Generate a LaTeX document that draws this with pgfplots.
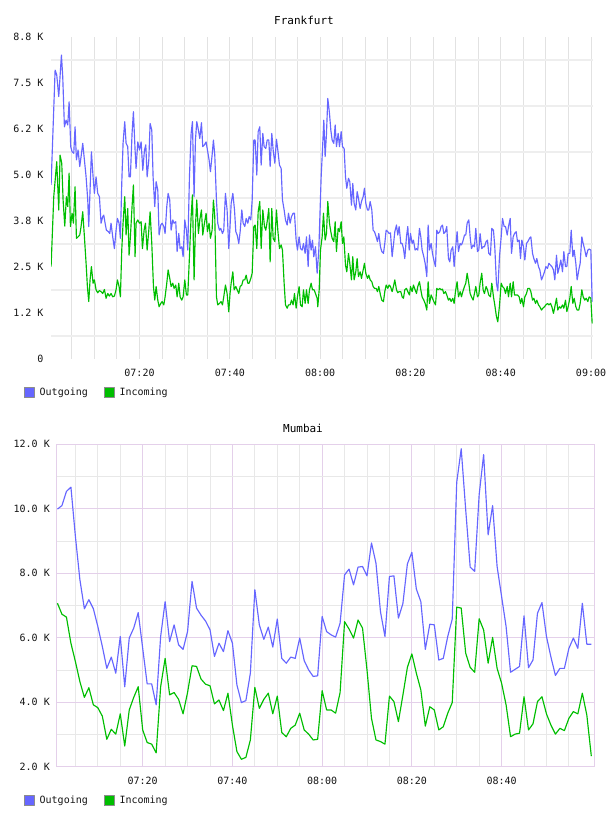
\documentclass[border=0pt]{standalone}
\usepackage{fontspec}
\setmainfont{DejaVu Sans Mono}
\usepackage{pgfplots}
\usepackage{pgfplotstable}
\pgfplotsset{compat=1.18}

\definecolor{outgoing}{RGB}{102,102,255}
\definecolor{incoming}{RGB}{0,190,0}
\definecolor{hgrid}{RGB}{238,238,238}
\definecolor{vgrid}{RGB}{226,226,226}
\definecolor{mgrid}{RGB}{228,208,234}
\definecolor{sgrid}{RGB}{232,232,232}
\definecolor{labeltext}{RGB}{20,20,20}

% Frankfurt: minutes after 07:00, traffic in thousands
\pgfplotstableread{
t v
0.42 4.73
1.31 7.85
1.67 7.72
2.12 7.13
2.71 8.26
3.00 7.67
3.37 6.31
3.74 6.49
4.11 6.36
4.41 6.99
4.77 5.77
5.07 5.63
5.44 5.59
5.73 6.31
6.03 5.41
6.40 5.68
6.77 5.23
7.06 5.50
7.43 5.86
7.80 5.41
8.17 4.95
8.54 4.32
8.76 3.60
9.05 4.59
9.35 5.63
9.72 4.95
10.01 4.50
10.38 4.95
10.75 4.50
11.12 4.41
11.49 3.69
11.86 3.87
12.08 3.91
12.38 3.69
12.67 3.50
13.11 3.46
13.41 3.41
13.70 3.69
14.07 3.32
14.44 3.00
14.81 3.50
15.11 3.82
15.48 3.69
15.77 3.28
16.07 4.77
16.36 5.86
16.73 6.45
17.03 5.86
17.39 5.77
17.69 4.95
17.98 4.95
18.35 6.13
18.65 6.72
19.02 5.68
19.24 5.18
19.62 5.90
19.99 5.68
20.36 5.90
20.73 5.13
21.10 5.68
21.39 5.82
21.69 4.95
22.06 5.41
22.35 6.40
22.72 6.22
23.01 4.95
23.38 4.14
23.68 4.82
24.05 4.59
24.34 3.37
24.71 3.64
25.01 3.69
25.38 3.60
25.67 3.41
26.04 4.14
26.34 4.50
26.70 4.32
27.00 3.50
27.37 3.78
27.66 3.69
28.03 3.73
28.33 2.92
28.70 3.41
28.99 3.00
29.36 3.05
29.66 2.78
30.03 3.78
30.39 3.50
30.69 2.96
31.06 4.95
31.43 6.13
31.72 6.45
32.09 4.41
32.39 5.95
32.68 6.45
33.05 6.22
33.35 5.99
33.72 6.42
34.01 5.77
34.38 5.82
34.75 5.90
35.04 5.68
35.41 5.41
35.71 5.09
36.08 5.54
36.37 5.95
36.67 5.54
37.04 4.32
37.33 3.69
37.70 3.50
37.99 3.55
38.37 3.41
38.66 3.50
39.03 4.50
39.40 4.05
39.77 3.00
40.05 3.60
40.30 4.23
40.67 4.50
41.04 4.05
41.33 3.46
41.63 3.37
41.99 3.14
42.29 3.46
42.66 4.05
42.95 3.69
43.32 3.60
43.62 3.82
43.99 3.69
44.28 3.87
44.65 3.78
44.95 4.32
45.32 5.95
45.61 5.95
45.98 5.00
46.28 6.18
46.64 6.31
46.94 5.27
47.31 6.13
47.60 5.77
47.97 5.72
48.27 5.95
48.64 5.95
48.93 5.23
49.30 6.13
49.60 5.68
49.97 5.32
50.33 5.97
50.63 5.68
51.00 5.27
51.37 5.18
51.66 4.32
52.03 4.05
52.33 3.78
52.70 3.64
52.99 3.96
53.36 3.69
53.66 3.87
54.02 3.96
54.32 3.96
54.69 3.23
54.98 2.96
55.35 3.32
55.65 3.00
56.02 2.96
56.31 3.14
56.68 2.87
56.98 3.32
57.35 2.51
57.64 3.37
58.01 2.96
58.31 3.23
58.60 2.78
58.97 3.05
59.34 2.33
59.71 2.96
60.23 4.95
60.52 5.68
60.82 6.49
61.11 5.50
61.41 6.13
61.70 7.08
62.07 6.68
62.37 6.22
62.66 5.95
63.03 5.86
63.33 6.36
63.62 5.77
63.99 6.13
64.29 5.77
64.66 6.18
64.95 5.77
65.32 5.72
65.62 4.95
65.91 4.64
66.28 4.91
66.57 4.82
66.94 4.18
67.24 4.77
67.53 4.23
67.90 4.05
68.20 4.55
68.49 4.37
68.86 4.09
69.16 4.28
69.53 4.41
69.82 4.64
70.12 4.23
70.49 4.05
70.78 4.05
71.08 4.28
71.45 4.05
71.74 3.50
72.04 3.46
72.41 3.32
72.70 3.19
73.00 3.41
73.36 3.05
73.66 2.92
74.03 2.87
74.32 3.14
74.62 3.50
74.99 3.46
75.28 3.41
75.58 3.43
75.95 2.78
76.24 3.10
76.54 3.46
76.91 3.64
77.20 3.37
77.50 3.60
77.87 3.14
78.16 3.14
78.46 3.00
78.75 2.73
79.12 3.32
79.42 3.60
79.72 2.96
80.01 3.41
80.38 3.14
80.67 3.23
81.04 2.96
81.34 3.00
81.63 2.96
82.00 3.55
82.30 3.32
82.59 2.96
82.96 2.78
83.26 2.60
83.63 2.24
83.92 3.64
84.22 2.96
84.59 3.14
84.88 2.87
85.18 2.69
85.55 2.51
85.84 3.50
86.14 3.41
86.50 3.46
86.80 3.60
87.10 3.64
87.39 3.41
87.76 3.46
88.05 3.60
88.42 2.73
88.72 2.64
89.01 2.96
89.38 3.05
89.68 2.51
89.97 2.96
90.34 3.46
90.64 2.92
91.01 3.14
91.30 3.10
91.60 3.19
91.97 3.37
92.26 3.37
92.56 3.69
92.93 3.78
93.22 3.32
93.52 3.00
93.88 3.10
94.18 3.05
94.48 3.55
94.84 2.92
95.14 2.96
95.43 3.41
95.80 3.00
96.10 3.05
96.39 3.05
96.76 3.19
97.06 3.23
97.35 2.87
97.72 2.82
98.02 3.55
98.39 3.50
98.68 3.05
99.05 2.06
99.35 1.85
99.72 2.78
100.10 3.32
100.39 3.82
100.76 3.60
101.06 3.60
101.43 3.37
101.72 3.60
102.09 3.82
102.39 2.87
102.75 3.32
103.05 3.41
103.42 3.46
103.71 3.19
104.08 3.23
104.38 2.73
104.67 3.23
105.04 3.05
105.34 2.69
105.71 3.14
106.00 3.19
106.37 3.28
106.67 3.32
107.04 2.87
107.33 2.73
107.70 2.60
107.99 2.73
108.36 2.51
108.66 2.42
109.03 2.15
109.32 2.24
109.69 2.37
109.99 2.51
110.36 2.46
110.65 2.60
111.02 2.55
111.32 2.51
111.68 2.42
111.98 2.15
112.35 2.82
112.64 2.33
113.01 2.51
113.31 2.69
113.68 2.37
113.97 2.92
114.34 2.51
114.64 2.51
114.93 2.87
115.30 2.87
115.60 3.50
115.97 2.78
116.26 2.96
116.63 2.60
116.92 2.15
117.29 2.42
117.59 2.60
117.96 3.32
118.25 3.14
118.62 2.96
118.92 2.78
119.29 2.96
119.58 2.99
119.95 2.96
120.25 1.56
}\fraout

\pgfplotstableread{
t v
0.42 2.51
1.01 4.41
1.67 5.36
2.12 4.05
2.41 5.54
2.78 5.32
3.08 4.32
3.45 3.61
3.81 4.41
4.11 4.14
4.41 5.05
4.70 3.60
5.07 3.96
5.36 3.69
5.73 4.68
6.03 3.28
6.40 3.32
6.77 3.37
7.06 3.60
7.43 4.00
7.80 3.32
8.17 2.60
8.46 1.97
8.76 1.56
9.05 2.15
9.35 2.51
9.72 2.06
10.01 2.15
10.38 1.88
10.75 1.80
11.12 1.86
11.49 1.83
11.86 1.78
12.23 1.89
12.60 1.65
12.97 1.78
13.33 1.71
13.70 1.78
14.07 1.69
14.44 1.71
14.81 1.88
15.11 2.15
15.48 1.97
15.77 1.69
16.07 2.96
16.36 3.69
16.73 4.41
17.03 3.37
17.39 4.09
17.69 2.82
17.98 3.32
18.35 4.14
18.65 4.73
19.02 2.78
19.24 3.69
19.62 3.78
19.99 3.69
20.36 3.73
20.65 3.00
21.02 3.50
21.32 3.69
21.69 2.96
22.06 3.50
22.35 4.00
22.72 3.14
23.09 1.97
23.38 1.60
23.68 1.97
24.05 1.60
24.34 1.42
24.71 1.51
25.01 1.56
25.38 1.47
25.67 1.69
26.04 2.06
26.34 2.42
26.70 2.19
27.00 1.97
27.37 2.06
27.66 1.92
28.03 2.01
28.33 1.69
28.70 2.06
28.99 1.69
29.36 1.60
29.66 1.69
30.03 2.15
30.39 1.74
30.69 1.74
31.06 2.78
31.43 3.87
31.72 4.46
32.09 2.15
32.39 3.60
32.68 4.32
33.05 3.41
33.35 3.78
33.72 4.05
34.01 3.37
34.38 3.69
34.75 3.96
35.04 3.46
35.41 3.69
35.71 3.28
36.08 3.50
36.37 4.32
36.67 3.87
37.04 1.69
37.33 1.47
37.70 1.51
38.07 1.56
38.37 1.47
38.66 1.69
39.03 2.01
39.40 1.78
39.77 1.28
40.05 1.78
40.30 2.06
40.67 2.37
40.96 1.88
41.33 1.97
41.63 1.88
41.99 1.78
42.29 1.97
42.66 2.01
42.95 2.15
43.32 2.15
43.62 2.28
43.99 2.06
44.28 2.06
44.65 2.19
44.95 2.33
45.32 3.60
45.61 3.64
45.98 3.00
46.28 4.00
46.64 4.28
46.94 3.00
47.31 4.05
47.68 3.60
47.97 3.50
48.27 3.73
48.64 4.09
48.93 2.64
49.30 4.09
49.60 3.28
49.97 3.19
50.33 4.05
50.63 3.50
51.00 3.00
51.37 3.10
51.66 2.96
52.03 2.06
52.33 1.47
52.70 1.38
52.99 1.47
53.36 1.47
53.66 1.60
54.02 1.47
54.32 1.78
54.69 1.38
54.98 1.69
55.35 1.97
55.65 1.47
56.02 1.42
56.31 1.88
56.68 1.51
56.98 1.88
57.35 1.51
57.64 1.88
58.01 2.06
58.31 1.88
58.67 1.88
58.97 1.78
59.34 1.65
59.49 1.42
59.79 1.88
60.08 2.96
60.45 3.32
60.74 3.96
61.11 3.23
61.41 3.41
61.70 4.28
62.07 3.69
62.37 3.46
62.66 3.28
63.03 3.19
63.33 3.73
63.62 2.92
63.99 3.55
64.29 3.46
64.66 3.73
64.95 3.14
65.25 3.32
65.62 2.55
65.91 2.37
66.28 2.87
66.57 2.60
66.94 2.15
67.24 2.78
67.53 2.15
67.90 2.37
68.20 2.73
68.49 2.24
68.86 2.37
69.16 2.19
69.45 2.37
69.82 2.60
70.12 2.33
70.49 2.19
70.78 2.28
71.08 2.15
71.45 2.10
71.74 1.97
72.04 1.92
72.41 1.92
72.70 1.83
73.00 1.97
73.36 1.74
73.66 1.60
74.03 1.56
74.32 1.83
74.62 2.01
74.99 1.92
75.28 2.01
75.58 1.97
75.95 1.83
76.24 1.97
76.54 2.15
76.91 1.88
77.20 1.80
77.50 1.83
77.87 1.83
78.16 1.69
78.46 1.65
78.75 1.88
79.12 1.92
79.42 1.83
79.79 1.74
80.01 1.97
80.38 1.83
80.67 2.01
81.04 1.88
81.34 1.78
81.63 1.97
82.00 2.10
82.30 1.88
82.59 1.69
82.96 1.60
83.26 1.51
83.63 1.33
83.92 2.10
84.22 1.51
84.59 1.74
84.88 1.65
85.18 1.56
85.55 1.47
85.84 1.92
86.14 1.88
86.50 1.92
86.80 1.88
87.10 1.90
87.39 1.78
87.76 1.83
88.05 1.74
88.42 1.60
88.72 1.65
89.01 1.56
89.38 1.65
89.68 1.51
89.97 1.83
90.34 2.10
90.64 1.69
91.01 1.83
91.30 1.69
91.60 1.83
91.97 1.97
92.26 2.06
92.56 2.33
92.93 2.06
93.22 1.78
93.52 1.69
93.88 1.60
94.18 1.78
94.48 1.97
94.84 1.69
95.14 1.74
95.43 2.06
95.80 2.33
96.10 1.88
96.39 1.78
96.76 1.97
97.06 1.88
97.35 1.74
97.72 1.69
98.02 2.06
98.39 1.69
98.68 1.47
99.05 1.15
99.35 1.01
99.72 1.45
100.10 2.06
100.39 1.97
100.76 1.92
101.06 1.78
101.43 1.97
101.72 1.69
102.09 2.06
102.39 1.69
102.75 2.10
103.05 1.74
103.42 1.74
103.71 1.74
104.08 1.69
104.38 1.51
104.67 1.65
105.04 1.42
105.34 1.69
105.71 1.78
106.00 1.92
106.37 1.92
106.67 1.83
107.04 1.60
107.33 1.65
107.70 1.51
107.99 1.60
108.36 1.47
108.66 1.42
109.03 1.33
109.32 1.38
109.69 1.42
109.99 1.47
110.36 1.51
110.65 1.47
111.02 1.51
111.32 1.42
111.68 1.24
111.98 1.42
112.35 1.65
112.64 1.33
113.01 1.42
113.31 1.38
113.68 1.47
113.97 1.38
114.34 1.60
114.64 1.29
114.93 1.42
115.30 1.65
115.60 1.97
115.97 1.51
116.26 1.65
116.63 1.42
116.92 1.33
117.29 1.33
117.59 1.51
117.96 1.88
118.25 1.69
118.62 1.60
118.92 1.65
119.29 1.56
119.58 1.69
119.95 1.65
120.25 0.97
}\frain

% Mumbai: one sample per minute after 07:00, traffic in thousands
\pgfplotstableread{
t v
1 9.99
2 10.10
3 10.54
4 10.67
5 9.14
6 7.80
7 6.90
8 7.18
9 6.90
10 6.35
11 5.73
12 5.05
13 5.40
14 4.90
15 6.04
16 4.48
17 5.99
18 6.30
19 6.78
20 5.67
21 4.57
22 4.57
23 3.92
24 6.04
25 7.12
26 5.88
27 6.40
28 5.78
29 5.64
30 6.19
31 7.75
32 6.92
33 6.70
34 6.52
35 6.25
36 5.42
37 5.83
38 5.57
39 6.22
40 5.83
41 4.54
42 3.99
43 4.05
44 4.90
45 7.49
46 6.40
47 5.95
48 6.33
49 5.71
50 6.58
51 5.36
52 5.21
53 5.40
54 5.36
55 5.99
56 5.29
57 5.00
58 4.80
59 4.82
60 6.66
61 6.19
62 6.09
63 6.02
64 6.45
65 7.95
66 8.13
67 7.64
68 8.19
69 8.21
70 7.92
71 8.94
72 8.31
73 6.81
74 6.04
75 7.90
76 7.92
77 6.61
78 7.06
79 8.29
80 8.65
81 7.51
82 7.12
83 5.64
84 6.42
85 6.40
86 5.31
87 5.36
88 6.04
89 6.58
90 10.82
91 11.86
92 9.97
93 8.19
94 8.06
95 10.44
96 11.68
97 9.19
98 10.10
99 8.21
100 7.28
101 6.35
102 4.93
103 5.02
104 5.11
105 6.68
106 5.07
107 5.31
108 6.76
109 7.09
110 6.04
111 5.40
112 4.83
113 5.05
114 5.05
115 5.67
116 5.99
117 5.67
118 7.07
119 5.80
120 5.80
}\mumout

\pgfplotstableread{
t v
1 7.07
2 6.73
3 6.64
4 5.83
5 5.26
6 4.64
7 4.15
8 4.45
9 3.92
10 3.83
11 3.57
12 2.85
13 3.16
14 3.01
15 3.64
16 2.64
17 3.76
18 4.15
19 4.48
20 3.14
21 2.75
22 2.70
23 2.43
24 4.48
25 5.36
26 4.23
27 4.30
28 4.09
29 3.64
30 4.30
31 5.13
32 5.11
33 4.72
34 4.56
35 4.51
36 3.95
37 4.07
38 3.74
39 4.28
40 3.29
41 2.47
42 2.23
43 2.29
44 2.83
45 4.46
46 3.81
47 4.09
48 4.28
49 3.64
50 4.19
51 3.06
52 2.93
53 3.19
54 3.29
55 3.66
56 3.14
57 3.01
58 2.83
59 2.85
60 4.36
61 3.76
62 3.76
63 3.66
64 4.30
65 6.50
66 6.27
67 5.99
68 6.55
69 6.30
70 5.00
71 3.50
72 2.83
73 2.78
74 2.70
75 4.19
76 4.02
77 3.40
78 4.22
79 5.08
80 5.50
81 4.90
82 4.38
83 3.26
84 3.86
85 3.76
86 3.14
87 3.24
88 3.66
89 3.99
90 6.95
91 6.92
92 5.52
93 5.08
94 4.93
95 6.59
96 6.24
97 5.21
98 6.01
99 5.05
100 4.59
101 3.92
102 2.93
103 3.01
104 3.04
105 4.17
106 3.14
107 3.33
108 4.02
109 4.17
110 3.64
111 3.29
112 3.01
113 3.19
114 3.12
115 3.50
116 3.71
117 3.64
118 4.28
119 3.60
120 2.33
}\mumin

\pgfplotsset{
  traffic/.style={
    scale only axis,
    tick style={draw=none},
    major tick length=0pt,
    minor tick length=0pt,
    minor xtick={5,10,15,25,30,35,45,50,55,65,70,75,85,90,95,105,110,115},
    tick label style={font=\fontsize{10}{12}\selectfont, text=labeltext, inner sep=0pt},
    xticklabel style={anchor=center},
    yticklabel style={anchor=east},
    title style={font=\fontsize{11}{13}\selectfont, text=black, anchor=center, inner sep=0pt},
    legend columns=2,
    legend style={draw=none, fill=none, inner sep=0pt, outer sep=0pt,
      font=\fontsize{10}{12}\selectfont, text=labeltext,
      nodes={inner sep=0pt},
      /tikz/every odd column/.append style={column sep=5pt},
      /tikz/every even column/.append style={column sep=16pt}},
    legend image code/.code={\filldraw[#1, draw=black!45, line width=0.7pt]
      (0pt,-5pt) rectangle (10pt,5pt);},
    every axis plot/.append style={line width=1.15pt, line join=round},
  },
}

\begin{document}
\begin{tikzpicture}[x=1pt,y=1pt]
% ---------- Frankfurt ----------
\begin{axis}[traffic,
  at={(51pt,-359pt)}, anchor=south west,
  width=542.3pt, height=322pt,
  xmin=0.4, xmax=120.5, ymin=0, ymax=8.75,
  axis line style={draw=none},
  xtick={20,40,60,80,100,120},
  xticklabels={07:20,07:40,08:00,08:20,08:40,09:00},
  xticklabel style={yshift=-14.3pt},
  ytick={0,1.25,2.5,3.75,5,6.25,7.5,8.75},
  yticklabels={0,1.2 K,2.5 K,3.8 K,5.0 K,6.2 K,7.5 K,8.8 K},
  yticklabel style={xshift=-7.3pt},
  xmajorgrids, xminorgrids,
  major grid style={vgrid, line width=0.9pt},
  minor grid style={vgrid, line width=0.9pt},
  extra y ticks={0.625,1.875,3.125,4.375,5.625,6.875,8.125},
  extra y tick labels={},
  extra y tick style={grid=major, major grid style={hgrid, line width=1.8pt}},
  title={Frankfurt},
  title style={at={(axis description cs:0.4665,1)}, yshift=10.5pt},
  legend style={at={(axis description cs:-0.0498,-0.1047)}, anchor=west},
]
\addplot[color=outgoing] table[x=t, y=v] {\fraout};
\addlegendentry{Outgoing}
\addplot[color=incoming] table[x=t, y=v] {\frain};
\addlegendentry{Incoming}
\end{axis}

% ---------- Mumbai ----------
\begin{axis}[traffic,
  at={(56.7pt,-766.7pt)}, anchor=south west,
  width=537.3pt, height=322.4pt,
  xmin=0.83, xmax=120.6, ymin=2, ymax=12,
  axis line style={mgrid, line width=1pt},
  xtick={20,40,60,80,100},
  xticklabels={07:20,07:40,08:00,08:20,08:40},
  xticklabel style={yshift=-14.6pt},
  ytick={2,4,6,8,10,12},
  yticklabels={2.0 K,4.0 K,6.0 K,8.0 K,10.0 K,12.0 K},
  minor ytick={3,5,7,9,11},
  yticklabel style={xshift=-6.7pt},
  xmajorgrids, xminorgrids, ymajorgrids, yminorgrids,
  major grid style={mgrid, line width=0.8pt},
  minor grid style={sgrid, line width=0.9pt},
  title={Mumbai},
  title style={at={(axis description cs:0.4584,1)}, yshift=10pt},
  legend style={at={(axis description cs:-0.0609,-0.1055)}, anchor=west},
]
\addplot[color=outgoing] table[x=t, y=v] {\mumout};
\addlegendentry{Outgoing}
\addplot[color=incoming] table[x=t, y=v] {\mumin};
\addlegendentry{Incoming}
\end{axis}

\pgfresetboundingbox
\path[use as bounding box] (0pt,0pt) rectangle (608pt,-816pt);
\end{tikzpicture}
\end{document}
